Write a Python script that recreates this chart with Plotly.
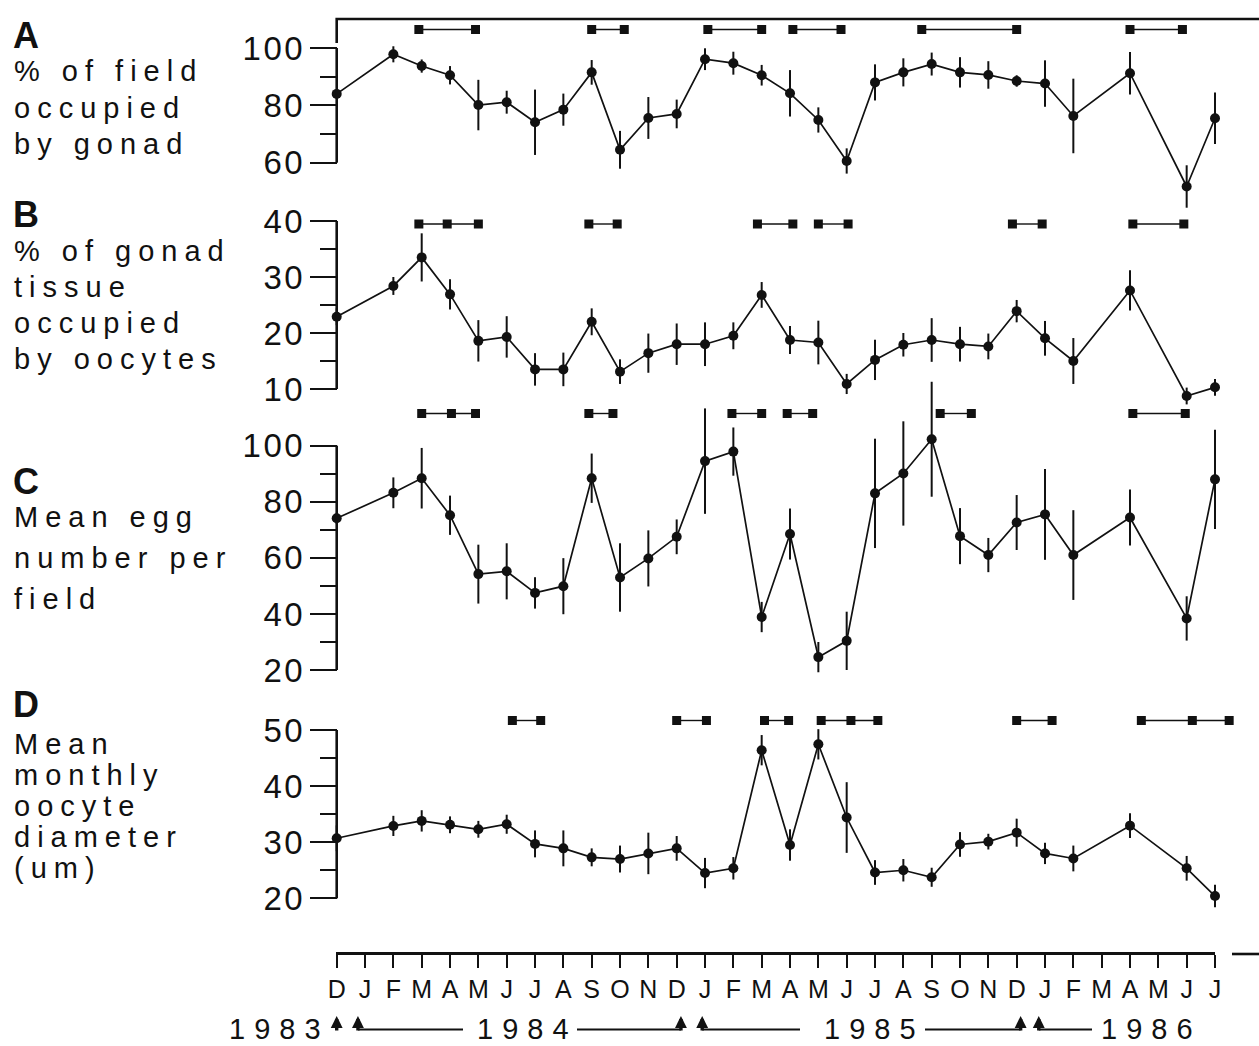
import plotly.graph_objects as go

W, H = 1259, 1046
FONT = "Liberation Sans, Arial, Helvetica, sans-serif"
INK = "#111111"

# ---------------------------------------------------------------- data
# month index: 0 = Dec 1983, 1 = Jan 1984, ... 31 = Jul 1986
month_letters = ["D", "J", "F", "M", "A", "M", "J", "J", "A", "S", "O", "N",
                 "D", "J", "F", "M", "A", "M", "J", "J", "A", "S", "O", "N",
                 "D", "J", "F", "M", "A", "M", "J", "J"]
sample_months = [0, 2, 3, 4, 5, 6, 7, 8, 9, 10, 11, 12, 13, 14, 15, 16, 17,
                 18, 19, 20, 21, 22, 23, 24, 25, 26, 28, 30, 31]

# A: % of field occupied by gonad
gonad_pct = [84.0, 97.8, 93.7, 90.5, 80.1, 81.1, 74.1, 78.5, 91.5, 64.5,
             75.6, 77.0, 96.1, 94.7, 90.5, 84.2, 74.9, 60.6, 88.0, 91.5,
             94.4, 91.5, 90.6, 88.5, 87.6, 76.3, 91.2, 51.7, 75.5]
gonad_err = [1.5, 2.8, 2.3, 3.2, 8.8, 4.0, 11.4, 5.6, 4.3, 6.6,
             7.3, 5.0, 3.8, 4.0, 3.6, 8.1, 4.4, 4.4, 6.3, 4.9,
             4.0, 5.3, 4.8, 2.0, 8.1, 13.0, 7.4, 7.4, 9.0]

# B: % of gonad tissue occupied by oocytes
oocyte_pct = [22.9, 28.4, 33.5, 26.9, 18.6, 19.3, 13.5, 13.5, 22.0, 13.1,
              16.4, 18.0, 18.0, 19.5, 26.8, 18.75, 18.3, 10.9, 15.2, 17.9,
              18.75, 18.0, 17.6, 23.9, 19.05, 15.0, 27.6, 8.75, 10.3]
oocyte_err = [1.5, 1.6, 4.3, 2.7, 3.7, 3.7, 2.9, 3.0, 2.4, 2.2,
              3.5, 3.7, 3.9, 2.4, 2.3, 2.5, 3.9, 1.8, 3.6, 2.1,
              3.9, 3.1, 2.3, 2.0, 3.1, 4.1, 3.6, 1.5, 1.5]

# C: mean egg number per field
egg_number = [74.1, 83.2, 88.4, 75.2, 54.2, 55.2, 47.5, 49.9, 88.4, 53.0,
              59.8, 67.5, 94.5, 97.9, 38.9, 68.5, 24.6, 30.4, 83.0, 90.1,
              102.3, 67.75, 61.0, 72.6, 75.5, 61.0, 74.4, 38.4, 88.0]
egg_err = [2.0, 5.5, 10.8, 7.0, 10.5, 10.0, 5.6, 10.0, 8.8, 12.2,
           10.0, 6.2, 18.8, 8.6, 5.4, 9.1, 5.4, 10.4, 19.5, 18.6,
           20.5, 10.0, 6.1, 9.8, 16.2, 16.0, 10.0, 7.9, 17.7]

# D: mean monthly oocyte diameter (um)
diameter = [30.7, 32.9, 33.8, 33.1, 32.3, 33.2, 29.7, 28.9, 27.3, 27.0,
            28.0, 28.9, 24.5, 25.35, 46.4, 29.5, 47.45, 34.4, 24.6, 25.0,
            23.75, 29.6, 30.1, 31.7, 28.0, 27.1, 32.95, 25.35, 20.4]
diameter_err = [2.3, 1.8, 1.9, 1.5, 1.5, 1.7, 2.4, 3.2, 1.6, 2.4,
                3.7, 2.2, 2.7, 2.0, 2.7, 2.8, 2.7, 6.3, 2.2, 2.0,
                1.7, 2.2, 1.4, 2.5, 1.9, 2.3, 2.2, 2.2, 2.0]

# runs of months joined by a bar above each panel
bars_a = [[2.9, 4.9], [9.0, 10.15], [13.1, 15.0], [16.1, 17.8],
          [20.65, 24.0], [28.0, 29.85]]
bars_b = [[2.9, 3.9, 5.0], [8.9, 9.9], [14.85, 16.1], [17.0, 18.05],
          [23.85, 24.9], [28.1, 29.9]]
bars_c = [[3.0, 4.05, 4.9], [8.9, 9.75], [13.95, 15.0], [15.9, 16.8],
          [21.3, 22.4], [28.1, 29.95]]
bars_d = [[6.2, 7.2], [12.0, 13.05], [15.1, 15.95], [17.1, 18.15, 19.1],
          [24.0, 25.25], [28.4, 30.2, 31.5]]

year_labels = ["1983", "1984", "1985", "1986"]

# ---------------------------------------------------------------- geometry
X0_PX = 336.7
PX_PER_MONTH = (1215.0 - X0_PX) / 31.0


def px_to_month(px):
    return (px - X0_PX) / PX_PER_MONTH


def paper_y(py):
    return 1.0 - py / H


panels = [
    dict(name="A", vals=gonad_pct, errs=gonad_err, bars=bars_a,
         v_ref=100, px_ref=48.0, k=2.8675, top=10, bot=214,
         axis=(60, 100), major=[60, 80, 100], minor=[70, 90], bar_px=29.5,
         lines=["% of field", "occupied", "by gonad"],
         text_top=53, line_step=36.5, letter_px=35),
    dict(name="B", vals=oocyte_pct, errs=oocyte_err, bars=bars_b,
         v_ref=40, px_ref=221.0, k=5.6, top=205, bot=410,
         axis=(10, 40), major=[10, 20, 30, 40], minor=[15, 25, 35], bar_px=224.0,
         lines=["% of gonad", "tissue", "occupied", "by oocytes"],
         text_top=233, line_step=36.0, letter_px=215),
    dict(name="C", vals=egg_number, errs=egg_err, bars=bars_c,
         v_ref=100, px_ref=445.7, k=2.804, top=375, bot=690,
         axis=(20, 100), major=[20, 40, 60, 80, 100], minor=[30, 50, 70, 90],
         bar_px=413.5,
         lines=["Mean egg", "number per", "field"],
         text_top=499, line_step=41.0, letter_px=481),
    dict(name="D", vals=diameter, errs=diameter_err, bars=bars_d,
         v_ref=50, px_ref=730.0, k=5.61, top=700, bot=915,
         axis=(20, 50), major=[20, 30, 40, 50], minor=[25, 35, 45], bar_px=720.5,
         lines=["Mean", "monthly", "oocyte", "diameter", "(um)"],
         text_top=726, line_step=31.0, letter_px=704),
]

LABEL_SIZE = 29


def px_to_val(p, py):
    return p["v_ref"] - (py - p["px_ref"]) / p["k"]


def spaced(txt, px, size=None):
    style = f"letter-spacing:{px}px"
    if size:
        style += f";font-size:{size}px"
    return f'<span style="{style}">{txt}</span>'


fig = go.Figure()
shapes = []
annotations = []

layout = dict(
    width=W, height=H, margin=dict(l=0, r=0, t=0, b=0, autoexpand=False),
    paper_bgcolor="white", plot_bgcolor="rgba(0,0,0,0)",
    showlegend=False, font=dict(family=FONT, color=INK),
    xaxis=dict(domain=[0, 1], range=[px_to_month(0), px_to_month(W)],
               visible=False, anchor="y"),
)

for i, p in enumerate(panels):
    yname = "y" if i == 0 else f"y{i + 1}"
    lname = "yaxis" if i == 0 else f"yaxis{i + 1}"
    layout[lname] = dict(
        domain=[paper_y(p["bot"]), paper_y(p["top"])],
        range=[px_to_val(p, p["bot"]), px_to_val(p, p["top"])],
        anchor="free", position=X0_PX / W,
        showline=False, showgrid=False, zeroline=False,
        ticks="outside", ticklen=27, tickwidth=2.2, tickcolor=INK,
        tickvals=p["major"],
        ticktext=[spaced(str(v), 2.5) for v in p["major"]],
        tickfont=dict(family=FONT, size=33, color=INK),
        ticklabelstandoff=-2,
        minor=dict(tickvals=p["minor"], ticks="outside", ticklen=17,
                   tickwidth=2.2, tickcolor=INK, showgrid=False),
    )

    # vertical axis line covering the labelled span only
    shapes.append(dict(type="line", xref="x", yref=yname, x0=0, x1=0,
                       y0=p["axis"][0], y1=p["axis"][1],
                       line=dict(color=INK, width=2.6)))

    # bars with square end markers
    bar_y = px_to_val(p, p["bar_px"])
    for grp in p["bars"]:
        fig.add_trace(go.Scatter(
            x=grp, y=[bar_y] * len(grp), xaxis="x", yaxis=yname,
            mode="lines+markers", cliponaxis=False, hoverinfo="skip",
            line=dict(color=INK, width=1.4),
            marker=dict(symbol="square", size=9, color=INK)))

    # monthly means with error bars
    fig.add_trace(go.Scatter(
        x=sample_months, y=p["vals"], xaxis="x", yaxis=yname,
        mode="lines+markers", cliponaxis=False,
        line=dict(color=INK, width=1.7),
        marker=dict(symbol="circle", size=10, color=INK),
        error_y=dict(type="data", array=p["errs"], visible=True,
                     thickness=2, width=0, color=INK)))

    # panel letter and description block (base font size sets line pitch)
    annotations.append(dict(
        xref="paper", yref="paper", x=11 / W, y=paper_y(p["letter_px"]),
        xanchor="left", yanchor="middle", showarrow=False,
        text=f"<b>{p['name']}</b>", font=dict(family=FONT, size=36, color=INK)))
    block = "<br>".join(spaced(t, 7, LABEL_SIZE) for t in p["lines"])
    annotations.append(dict(
        xref="paper", yref="paper", x=12 / W, y=paper_y(p["text_top"]),
        xanchor="left", yanchor="top", align="left", showarrow=False,
        text=block,
        font=dict(family=FONT, size=p["line_step"] / 1.3, color=INK)))

# frame line across the top of panel A
pa = panels[0]
shapes.append(dict(
    type="path", xref="x", yref="y",
    path=(f"M 0 {px_to_val(pa, 43)} L 0 {px_to_val(pa, 19)} "
          f"L {px_to_month(W + 2)} {px_to_val(pa, 19)}"),
    line=dict(color=INK, width=2.6)))

# month axis at the bottom
AXIS_PX = 952.7
layout["xaxis2"] = dict(
    domain=[(X0_PX - 0.3) / W, (1215.0 + 0.3) / W],
    range=[px_to_month(X0_PX - 0.3), px_to_month(1215.3)],
    anchor="free", position=paper_y(AXIS_PX), side="bottom",
    showline=True, linewidth=2.6, linecolor=INK,
    showgrid=False, zeroline=False,
    ticks="outside", ticklen=13, tickwidth=1.5, tickcolor=INK,
    tickvals=list(range(len(month_letters))), ticktext=month_letters,
    tickfont=dict(family=FONT, size=25, color=INK),
    ticklabelstandoff=0,
)
fig.add_trace(go.Scatter(x=[None], y=[None], xaxis="x2", yaxis="y",
                         mode="markers", hoverinfo="skip"))

shapes.append(dict(type="line", xref="paper", yref="paper",
                   x0=1232 / W, x1=1, y0=paper_y(954), y1=paper_y(954),
                   line=dict(color=INK, width=2.6)))

# year labels with arrows marking December / January
year_left_px = [227, 475, 822, 1099]
YEAR_PX = 1029
for lab, lx in zip(year_labels, year_left_px):
    annotations.append(dict(
        xref="x", yref="paper", x=px_to_month(lx), y=paper_y(YEAR_PX),
        xanchor="left", yanchor="middle", showarrow=False,
        text=spaced(lab, 9), font=dict(family=FONT, size=29, color=INK)))

arrow_months = [0.0, 0.75, 12.15, 12.9, 24.14, 24.78]
for m in arrow_months:
    annotations.append(dict(
        xref="x", yref="paper", x=m, y=paper_y(1016), text="",
        showarrow=True, arrowhead=2, arrowsize=0.7, arrowwidth=3.4,
        arrowcolor=INK, ax=0, ay=16, standoff=0))

CONNECT_PX = 1029.5
connectors = [(0.75, px_to_month(463)), (px_to_month(577), 12.15),
              (12.9, px_to_month(800)), (px_to_month(925), 24.14),
              (24.78, px_to_month(1092))]
for a, b in connectors:
    shapes.append(dict(type="line", xref="x", yref="paper", x0=a, x1=b,
                       y0=paper_y(CONNECT_PX), y1=paper_y(CONNECT_PX),
                       line=dict(color=INK, width=2)))

layout["shapes"] = shapes
layout["annotations"] = annotations
fig.update_layout(**layout)

fig.write_html("out.html")
